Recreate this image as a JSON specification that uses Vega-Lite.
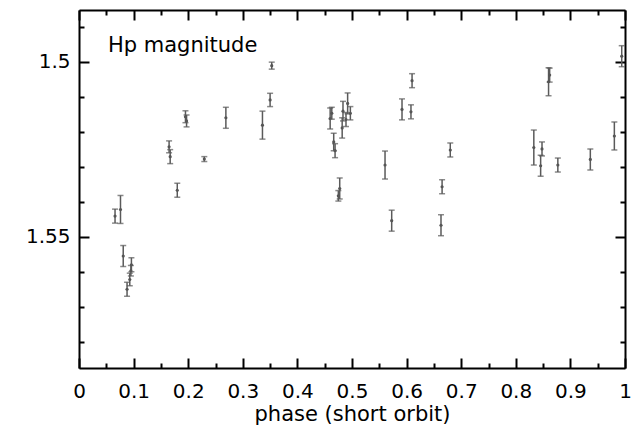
{
  "$schema": "https://vega.github.io/schema/vega-lite/v6.json",
  "width": 546,
  "height": 358,
  "autosize": "none",
  "padding": {"left": 79, "top": 10, "right": 6, "bottom": 60},
  "background": "white",
  "config": {"view": {"stroke": null}},
  "data": {"values": [
    {"phase": 0.066, "mag": 1.5441, "err": 0.002},
    {"phase": 0.076, "mag": 1.5422, "err": 0.004},
    {"phase": 0.081, "mag": 1.5555, "err": 0.003},
    {"phase": 0.096, "mag": 1.5580, "err": 0.002},
    {"phase": 0.095, "mag": 1.5597, "err": 0.0015},
    {"phase": 0.093, "mag": 1.5622, "err": 0.0018},
    {"phase": 0.088, "mag": 1.5650, "err": 0.002},
    {"phase": 0.165, "mag": 1.5243, "err": 0.0017},
    {"phase": 0.167, "mag": 1.5271, "err": 0.002},
    {"phase": 0.180, "mag": 1.5367, "err": 0.002},
    {"phase": 0.195, "mag": 1.5157, "err": 0.0017},
    {"phase": 0.197, "mag": 1.5169, "err": 0.0017},
    {"phase": 0.2295, "mag": 1.5278, "err": 0.0007},
    {"phase": 0.269, "mag": 1.5160, "err": 0.003},
    {"phase": 0.336, "mag": 1.5181, "err": 0.004},
    {"phase": 0.350, "mag": 1.5109, "err": 0.0019},
    {"phase": 0.353, "mag": 1.5011, "err": 0.001},
    {"phase": 0.460, "mag": 1.5162, "err": 0.003},
    {"phase": 0.463, "mag": 1.5147, "err": 0.0017},
    {"phase": 0.4665, "mag": 1.5229, "err": 0.0025},
    {"phase": 0.469, "mag": 1.5254, "err": 0.002},
    {"phase": 0.475, "mag": 1.5383, "err": 0.0015},
    {"phase": 0.4775, "mag": 1.5362, "err": 0.003},
    {"phase": 0.482, "mag": 1.5189, "err": 0.0029},
    {"phase": 0.4835, "mag": 1.5141, "err": 0.0028},
    {"phase": 0.489, "mag": 1.5165, "err": 0.002},
    {"phase": 0.492, "mag": 1.5119, "err": 0.003},
    {"phase": 0.497, "mag": 1.5147, "err": 0.0019},
    {"phase": 0.5605, "mag": 1.5295, "err": 0.004},
    {"phase": 0.5727, "mag": 1.5454, "err": 0.003},
    {"phase": 0.5916, "mag": 1.5136, "err": 0.003},
    {"phase": 0.608, "mag": 1.5143, "err": 0.002},
    {"phase": 0.610, "mag": 1.5054, "err": 0.002},
    {"phase": 0.663, "mag": 1.5467, "err": 0.003},
    {"phase": 0.665, "mag": 1.5357, "err": 0.002},
    {"phase": 0.680, "mag": 1.5252, "err": 0.002},
    {"phase": 0.833, "mag": 1.5245, "err": 0.005},
    {"phase": 0.8455, "mag": 1.5297, "err": 0.003},
    {"phase": 0.848, "mag": 1.5249, "err": 0.002},
    {"phase": 0.860, "mag": 1.5057, "err": 0.004},
    {"phase": 0.862, "mag": 1.5038, "err": 0.002},
    {"phase": 0.877, "mag": 1.5295, "err": 0.002},
    {"phase": 0.9365, "mag": 1.5279, "err": 0.003},
    {"phase": 0.9805, "mag": 1.5212, "err": 0.004},
    {"phase": 0.994, "mag": 1.4984, "err": 0.003}
  ]},
  "resolve": {"axis": {"x": "independent", "y": "independent"}},
  "layer": [
    {
      "mark": {"type": "errorbar", "color": "#5a5a5a", "thickness": 1.5, "ticks": {"size": 6, "color": "#5a5a5a"}, "rule": {"color": "#5a5a5a"}},
      "encoding": {
        "x": {"field": "phase", "type": "quantitative",
          "scale": {"domain": [0, 1], "nice": false, "zero": false},
          "axis": {"orient": "bottom",
            "values": [0, 0.05, 0.1, 0.15, 0.2, 0.25, 0.3, 0.35, 0.4, 0.45, 0.5, 0.55, 0.6, 0.65, 0.7, 0.75, 0.8, 0.85, 0.9, 0.95, 1],
            "format": "~g",
            "labelExpr": "abs(datum.value*10-round(datum.value*10))<0.001 ? datum.label : ''",
            "tickSize": {"condition": {"test": "abs(datum.value*10-round(datum.value*10))<0.001", "value": -10}, "value": -5},
            "tickWidth": 2, "tickColor": "black", "domainColor": "black", "domainWidth": 2,
            "grid": false, "labelFont": "DejaVu Sans", "labelFontSize": 20, "labelColor": "black",
            "labelPadding": 23, "labelFlush": false, "labelOverlap": false,
            "title": "phase (short orbit)", "titleFont": "DejaVu Sans", "titleFontSize": 21, "titleFontWeight": "normal", "titleColor": "black", "titlePadding": -3}},
        "y": {"field": "mag", "type": "quantitative",
          "scale": {"domain": [1.4852, 1.5875], "nice": false, "zero": false, "reverse": true},
          "axis": {"orient": "left",
            "values": [1.49, 1.5, 1.51, 1.52, 1.53, 1.54, 1.55, 1.56, 1.57, 1.58],
            "format": "~g",
            "labelExpr": "abs(datum.value*20-round(datum.value*20))<0.001 ? datum.label : ''",
            "tickSize": {"condition": {"test": "abs(datum.value*20-round(datum.value*20))<0.001", "value": -10}, "value": -5},
            "tickWidth": 2, "tickColor": "black", "domainColor": "black", "domainWidth": 2,
            "grid": false, "labelFont": "DejaVu Sans", "labelFontSize": 20, "labelColor": "black",
            "labelPadding": 19, "labelFlush": false, "labelOverlap": false,
            "title": null}},
        "yError": {"field": "err"}
      }
    },
    {
      "mark": {"type": "circle", "size": 10, "color": "#555555", "opacity": 1},
      "encoding": {
        "x": {"field": "phase", "type": "quantitative",
          "axis": {"orient": "top",
            "values": [0, 0.05, 0.1, 0.15, 0.2, 0.25, 0.3, 0.35, 0.4, 0.45, 0.5, 0.55, 0.6, 0.65, 0.7, 0.75, 0.8, 0.85, 0.9, 0.95, 1],
            "labels": false,
            "tickSize": {"condition": {"test": "abs(datum.value*10-round(datum.value*10))<0.001", "value": -10}, "value": -5},
            "tickWidth": 2, "tickColor": "black", "domainColor": "black", "domainWidth": 2, "grid": false, "title": null}},
        "y": {"field": "mag", "type": "quantitative",
          "axis": {"orient": "right",
            "values": [1.49, 1.5, 1.51, 1.52, 1.53, 1.54, 1.55, 1.56, 1.57, 1.58],
            "labels": false,
            "tickSize": {"condition": {"test": "abs(datum.value*20-round(datum.value*20))<0.001", "value": -10}, "value": -5},
            "tickWidth": 2, "tickColor": "black", "domainColor": "black", "domainWidth": 2, "grid": false, "title": null}}
      }
    },
    {
      "data": {"values": [{"label": "Hp magnitude", "px": 0.053, "py": 1.4955}]},
      "mark": {"type": "text", "align": "left", "baseline": "middle", "font": "DejaVu Sans", "fontSize": 21, "color": "black"},
      "encoding": {
        "x": {"field": "px", "type": "quantitative", "axis": null},
        "y": {"field": "py", "type": "quantitative", "axis": null},
        "text": {"field": "label"}
      }
    }
  ]
}
